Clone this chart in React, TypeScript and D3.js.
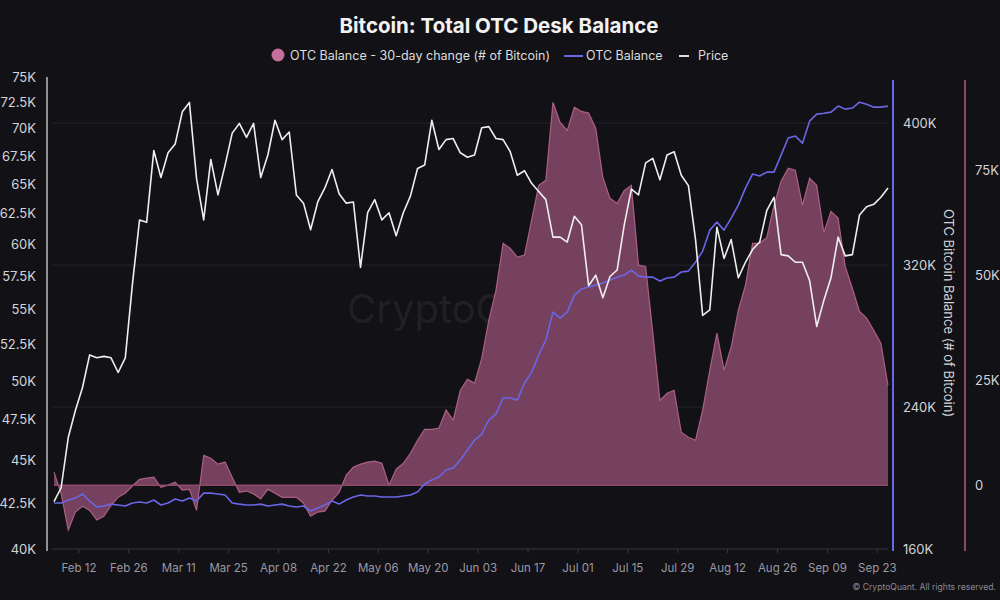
import React from 'react';
import * as d3 from 'd3';

// ---- data (daily series sampled every 2 days, starting Feb 5 2024) ----
const startDate = new Date(2024, 1, 5);
const stepDays = 2;

const xTickLabels = ['Feb 12', 'Feb 26', 'Mar 11', 'Mar 25', 'Apr 08', 'Apr 22', 'May 06', 'May 20', 'Jun 03', 'Jun 17', 'Jul 01', 'Jul 15', 'Jul 29', 'Aug 12', 'Aug 26', 'Sep 09', 'Sep 23'];
const priceTicks = [40, 42.5, 45, 47.5, 50, 52.5, 55, 57.5, 60, 62.5, 65, 67.5, 70, 72.5, 75];
const balanceTicks = [160, 240, 320, 400];
const changeTicks = [0, 25, 50, 75];

// Price, thousands of USD
const priceK = [
  42.6, 43.4, 46.4, 48.1, 49.6, 51.8, 51.6, 51.7, 51.6, 50.6,
  51.6, 56.9, 62.0, 61.8, 68.0, 65.6, 67.8, 68.6, 71.6, 72.5,
  65.5, 62.0, 67.2, 64.1, 66.7, 69.6, 70.5, 69.2, 70.5, 65.6,
  67.6, 70.8, 69.0, 69.7, 64.1, 63.4, 61.2, 63.5, 64.7, 66.3,
  64.2, 63.4, 63.5, 58.2, 62.6, 63.7, 62.0, 62.6, 60.7, 62.6,
  64.0, 66.4, 66.7, 70.8, 68.1, 69.0, 69.1, 67.8, 67.4, 67.6,
  70.1, 70.2, 69.1, 69.0, 67.9, 65.8, 66.2, 65.1, 64.4, 63.7,
  60.6, 60.6, 60.2, 62.3, 61.6, 56.8, 57.6, 55.9, 57.5, 58.0,
  61.6, 64.6, 64.1, 66.9, 67.3, 65.4, 67.6, 67.9, 65.8, 64.9,
  60.4, 54.6, 55.0, 61.4, 58.9, 60.4, 57.4, 58.6, 59.6, 60.2,
  62.8, 63.9, 59.2, 59.1, 58.6, 58.6, 57.2, 53.8, 55.7, 57.4,
  60.6, 59.1, 59.2, 62.4, 63.1, 63.3, 63.9, 64.7,
];

// OTC balance, thousands of BTC
const balanceK = [
  185.9, 185.9, 187.6, 188.7, 191.0, 187.0, 183.7, 184.2, 185.3, 184.8,
  184.2, 185.9, 186.5, 185.9, 187.6, 184.8, 185.9, 188.2, 187.0, 188.7,
  187.0, 191.5, 191.5, 191.0, 190.4, 185.9, 185.3, 184.8, 184.8, 185.3,
  184.2, 184.8, 185.3, 184.2, 183.7, 184.2, 181.4, 183.1, 184.8, 187.0,
  185.3, 187.6, 189.3, 190.4, 189.9, 189.9, 189.3, 189.3, 189.3, 189.9,
  190.4, 192.1, 196.6, 198.9, 200.6, 204.5, 205.6, 210.1, 215.8, 221.4,
  224.8, 232.7, 236.0, 245.1, 245.1, 243.9, 253.5, 259.7, 269.3, 277.8,
  293.5, 290.1, 293.5, 303.1, 306.5, 307.6, 308.7, 309.9, 311.6, 313.2,
  314.4, 317.2, 313.8, 313.2, 313.2, 311.0, 312.7, 313.2, 316.1, 316.6,
  321.7, 327.9, 339.7, 344.2, 339.7, 346.5, 353.8, 363.4, 371.3, 370.2,
  372.4, 372.4, 382.0, 391.6, 392.7, 388.7, 401.1, 405.1, 405.6, 406.2,
  409.6, 407.9, 408.5, 411.8, 410.7, 409.0, 409.0, 409.6,
];

// OTC balance 30-day change, thousands of BTC
const changeK = [
  3.1, -2.0, -10.7, -6.4, -5.0, -6.0, -8.3, -7.4, -4.8, -2.9,
  -1.9, -0.2, 1.4, 1.7, 1.9, -0.5, 0.0, 0.7, -1.2, -1.0,
  -6.0, 7.1, 6.4, 5.0, 5.5, 1.9, -1.7, -1.4, -2.1, -3.3,
  -1.0, -1.9, -2.9, -2.9, -2.9, -4.3, -7.4, -6.4, -6.2, -3.6,
  -1.7, 2.4, 4.3, 5.0, 5.5, 5.7, 5.2, 0.0, 3.8, 5.2,
  7.6, 10.7, 13.3, 13.3, 13.6, 17.9, 15.5, 22.6, 25.2, 24.3,
  30.2, 39.3, 46.4, 57.6, 56.4, 54.3, 54.8, 63.1, 71.4, 72.6,
  91.2, 86.4, 84.5, 90.0, 89.0, 88.6, 85.0, 73.3, 68.3, 67.1,
  70.2, 71.4, 52.4, 52.1, 36.4, 20.2, 21.9, 22.6, 12.6, 11.4,
  10.7, 17.9, 27.4, 36.2, 27.4, 32.9, 41.7, 47.6, 57.6, 57.6,
  59.0, 66.7, 72.4, 75.5, 75.0, 66.7, 73.1, 71.4, 60.2, 65.2,
  63.6, 52.1, 46.9, 41.4, 39.8, 36.9, 33.8, 23.8,
];

// ---- layout ----
const W = 1000;
const H = 600;
const left = 54;
const right = 888;
const top = 77;
const bottom = 549;

const BG = '#121116';
const PINK_FILL = '#7c4562';
const PINK_LINE = '#c36d94';
const BLUE = '#6a66e6';
const WHITE = '#eeeeee';
const FONT = 'Inter, "Noto Sans", sans-serif';

export default function App() {
  const dates = priceK.map((_, i) => d3.timeDay.offset(startDate, i * stepDays));
  const endDate = dates[dates.length - 1];
  const x = d3.scaleTime().domain([startDate, endDate]).range([left, right]);
  const yPrice = d3.scaleLog().domain([40, 75]).range([bottom, top]);
  const yBal = d3.scaleLinear().domain([160, 426]).range([bottom, top]);
  const yChg = d3.scaleLinear().domain([-15.2, 97.2]).range([bottom, top]);

  const parse = d3.timeParse('%b %d %Y');
  const xTicks = xTickLabels.map((l) => ({ label: l, date: parse(l + ' 2024') as Date }));

  const idx = dates.map((_, i) => i);
  const area = d3
    .area<number>()
    .x((i) => x(dates[i]))
    .y0(yChg(0))
    .y1((i) => yChg(changeK[i]));
  const chgLine = d3
    .line<number>()
    .x((i) => x(dates[i]))
    .y((i) => yChg(changeK[i]));
  const balLine = d3
    .line<number>()
    .x((i) => x(dates[i]))
    .y((i) => yBal(balanceK[i]));
  const priceLine = d3
    .line<number>()
    .x((i) => x(dates[i]))
    .y((i) => yPrice(priceK[i]));

  const fmtK = (v: number) => (v === 0 ? '0' : `${v}K`);

  return (
    <svg
      width={W}
      height={H}
      style={{ position: 'absolute', left: 0, top: 0, display: 'block', background: BG }}
      fontFamily={FONT}
    >
      <rect x={0} y={0} width={W} height={H} fill={BG} />

      {/* title */}
      <text x={499} y={33} textAnchor="middle" fill="#f2f2f2" fontSize={20.5} fontWeight={700}>
        Bitcoin: Total OTC Desk Balance
      </text>

      {/* legend */}
      <g fontSize={12.5} fill="#dddddd">
        <circle cx={278} cy={55} r={6.5} fill="#c4709a" />
        <text x={290} y={60} textLength={260} lengthAdjust="spacingAndGlyphs">
          OTC Balance - 30-day change (# of Bitcoin)
        </text>
        <line x1={564} x2={583} y1={56} y2={56} stroke={BLUE} strokeWidth={2} />
        <text x={586} y={60}>OTC Balance</text>
        <line x1={679} x2={689} y1={56} y2={56} stroke="#dddddd" strokeWidth={2} />
        <text x={698} y={60}>Price</text>
      </g>

      {/* grid lines (balance axis) */}
      {balanceTicks.slice(1).map((t) => (
        <line key={t} x1={left - 2} x2={right} y1={yBal(t)} y2={yBal(t)} stroke="#24232a" strokeWidth={1} />
      ))}

      {/* watermark */}
      <text x={468} y={323} textAnchor="middle" fontSize={40} fill="#ffffff" fillOpacity={0.08}>
        CryptoQuant
      </text>

      {/* 30-day change area */}
      <path d={area(idx) || ''} fill={PINK_FILL} fillOpacity={0.95} />
      <path d={chgLine(idx) || ''} fill="none" stroke={PINK_LINE} strokeWidth={1.2} strokeOpacity={0.8} />
      <line x1={left} x2={right} y1={yChg(0)} y2={yChg(0)} stroke="#8a4a68" strokeWidth={1.5} />

      {/* balance line */}
      <path d={balLine(idx) || ''} fill="none" stroke={BLUE} strokeWidth={1.6} strokeLinejoin="round" />

      {/* price line */}
      <path d={priceLine(idx) || ''} fill="none" stroke={WHITE} strokeWidth={1.6} strokeLinejoin="round" />

      {/* x axis */}
      <line x1={left - 2} x2={right} y1={bottom} y2={bottom} stroke="#3a3940" strokeWidth={1} />
      {xTicks.map((t) => (
        <g key={t.label} transform={`translate(${x(t.date)},0)`}>
          <line y1={bottom} y2={bottom + 4} stroke="#3a3940" />
          <text y={572} textAnchor="middle" fontSize={11.5} fill="#9a9aa2">
            {t.label}
          </text>
        </g>
      ))}

      {/* left price axis */}
      <line x1={47} x2={47} y1={top} y2={bottom + 2} stroke="#bdbdbd" strokeWidth={1.5} />
      {priceTicks.map((t) => (
        <text key={t} x={36} y={yPrice(t) + 4.5} textAnchor="end" fontSize={13} fill="#d4d4d8">
          {fmtK(t)}
        </text>
      ))}

      {/* right balance axis */}
      <line x1={893} x2={893} y1={80} y2={bottom + 2} stroke={BLUE} strokeWidth={2} />
      {balanceTicks.map((t) => (
        <text key={t} x={903} y={yBal(t) + 4.5} fontSize={13} fill="#d4d4d8">
          {fmtK(t)}
        </text>
      ))}
      <text
        transform={`translate(944,${313}) rotate(90)`}
        textAnchor="middle"
        fontSize={13}
        fill="#d4d4d8"
      >
        OTC Bitcoin Balance (# of Bitcoin)
      </text>

      {/* right change axis */}
      <line x1={965} x2={965} y1={80} y2={bottom + 2} stroke="#8a4a63" strokeWidth={2} />
      {changeTicks.map((t) => (
        <text key={t} x={975} y={yChg(t) + 4.5} fontSize={13} fill="#d4d4d8">
          {fmtK(t)}
        </text>
      ))}

      {/* credit */}
      <text x={996} y={590} textAnchor="end" fontSize={8.6} fill="#8a8a92">
        © CryptoQuant. All rights reserved.
      </text>
    </svg>
  );
}
